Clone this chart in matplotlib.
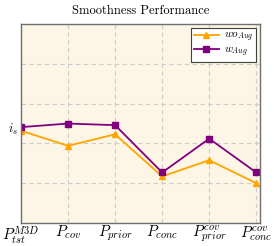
import matplotlib
matplotlib.use('Agg')
import matplotlib.pyplot as plt

plt.rcParams['mathtext.fontset'] = 'cm'
plt.rcParams['font.family'] = 'serif'
plt.rcParams['font.serif'] = ['cmr10', 'DejaVu Serif']
plt.rcParams['axes.formatter.use_mathtext'] = True

labels = ['$P_{tst}^{M3D}$', '$P_{cov}$', '$P_{prior}$', '$P_{conc}$',
          '$P_{prior}^{cov}$', '$P_{conc}^{cov}$']
wo_aug = [2.32, 1.94, 2.23, 1.17, 1.58, 1.00]
w_aug = [2.41, 2.50, 2.46, 1.27, 2.12, 1.27]
i_s = 2.41

fig = plt.figure(figsize=(2.74, 2.46), dpi=100)
ax = fig.add_axes([0.0766, 0.0935, 0.8724, 0.8085])
ax.set_facecolor('#fdf6e6')

x = list(range(len(labels)))
ax.plot(x, wo_aug, color='#ffa500', marker='^', markersize=4.5, lw=1.3,
        label='$wo_{Aug}$')
ax.plot(x, w_aug, color='#800080', marker='s', markersize=4, lw=1.3,
        label='$w_{Aug}$')

ax.set_xlim(0, 5.08)
ax.set_ylim(0, 5)
ax.set_xticks(x)
ax.set_xticklabels(labels, fontsize=10.8)
ax.set_yticks([1, 2, i_s, 3, 4])
ax.set_yticklabels(['', '', '$i_s$', '', ''], fontsize=9)
ax.tick_params(length=0, pad=2)
ax.tick_params(axis='x', pad=0.5)
ax.grid(True, color='#cccccc', ls=(0, (4, 3)), lw=0.8)
ax.get_ygridlines()[2].set_visible(False)
ax.get_xgridlines()[0].set_visible(False)
for s in ax.spines.values():
    s.set_color('#707070')
    s.set_linewidth(1.0)

ax.set_title('Smoothness Performance', fontsize=9, pad=7)
leg = ax.legend(loc='upper right', fontsize=8, frameon=True, fancybox=False,
                edgecolor='#404040', framealpha=1, handlelength=2.2,
                borderpad=0.25, labelspacing=0.1, borderaxespad=0.35,
                handletextpad=0.5)
leg.get_frame().set_linewidth(0.8)

fig.savefig('out.png', dpi=100)
